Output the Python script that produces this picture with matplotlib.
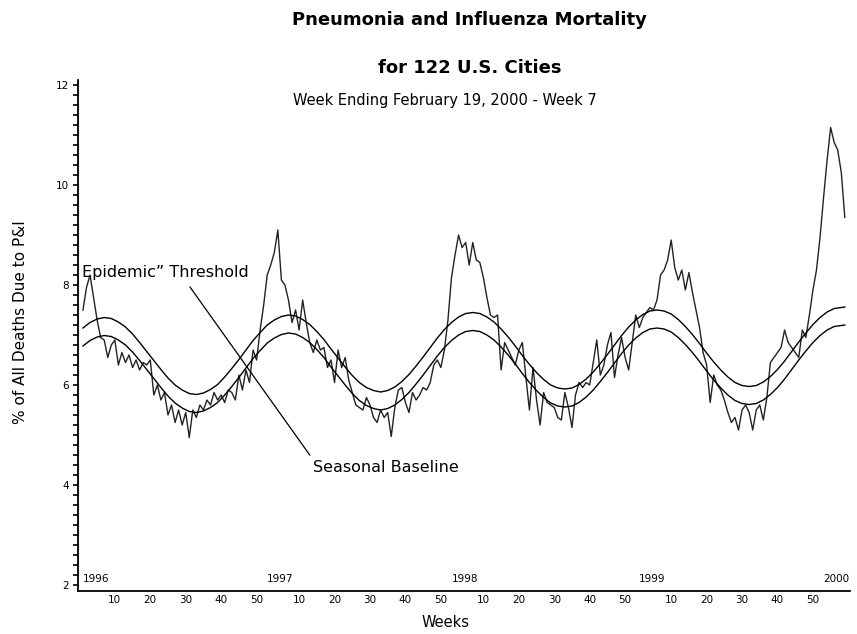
import numpy as np
import matplotlib
matplotlib.use("Agg")
import matplotlib.pyplot as plt
from matplotlib.ticker import MultipleLocator

# ---------------- data ----------------
years = ["1996", "1997", "1998", "1999", "2000"]
weeks_in_year = [52, 52, 53, 52, 7]

pi_1996 = [7.5, 7.95, 8.2, 7.75, 7.3, 6.95, 6.9, 6.55, 6.8, 6.9,
           6.4, 6.65, 6.45, 6.6, 6.35, 6.5, 6.3, 6.45, 6.4, 6.5,
           5.8, 6.0, 5.7, 5.85, 5.4, 5.6, 5.25, 5.5, 5.2, 5.45,
           4.95, 5.5, 5.35, 5.6, 5.5, 5.7, 5.6, 5.85, 5.7, 5.8,
           5.65, 5.9, 5.85, 5.7, 6.2, 5.9, 6.3, 6.05, 6.7, 6.5,
           7.1, 7.6]
pi_1997 = [8.2, 8.4, 8.65, 9.1, 8.1, 8.0, 7.7, 7.25, 7.5, 7.1,
           7.7, 7.25, 6.85, 6.65, 6.9, 6.7, 6.75, 6.35, 6.5, 6.05,
           6.7, 6.35, 6.55, 6.1, 5.85, 5.6, 5.55, 5.5, 5.75, 5.6,
           5.35, 5.25, 5.5, 5.35, 5.45, 4.97, 5.55, 5.9, 5.95, 5.65,
           5.45, 5.85, 5.7, 5.8, 5.95, 5.9, 6.05, 6.4, 6.5, 6.35,
           6.7, 7.3]
pi_1998 = [8.15, 8.6, 9.0, 8.75, 8.85, 8.4, 8.85, 8.5, 8.45, 8.15,
           7.75, 7.4, 7.35, 7.4, 6.3, 6.85, 6.7, 6.55, 6.4, 6.7,
           6.85, 6.15, 5.5, 6.35, 5.7, 5.2, 5.85, 5.65, 5.6, 5.55,
           5.35, 5.3, 5.85, 5.55, 5.15, 5.8, 6.05, 5.95, 6.05, 6.0,
           6.45, 6.9, 6.2, 6.4, 6.8, 7.05, 6.15, 6.6, 6.95, 6.55,
           6.3, 6.85, 7.4]
pi_1999 = [7.15, 7.35, 7.45, 7.55, 7.5, 7.7, 8.2, 8.3, 8.5, 8.9,
           8.35, 8.1, 8.3, 7.9, 8.25, 7.85, 7.5, 7.15, 6.65, 6.4,
           5.65, 6.2, 6.0, 5.9, 5.7, 5.45, 5.25, 5.35, 5.1, 5.5,
           5.6, 5.45, 5.1, 5.5, 5.6, 5.3, 5.75, 6.45, 6.55, 6.65,
           6.75, 7.1, 6.85, 6.75, 6.65, 6.55, 7.1, 6.95, 7.4, 7.9,
           8.3, 8.95]
pi_2000 = [9.75, 10.5, 11.15, 10.85, 10.7, 10.25, 9.35]

# smoothed curves, sampled every second week from week 1 of 1996
baseline = [6.78, 6.89, 6.96, 6.99, 6.97, 6.90, 6.80, 6.66, 6.49, 6.31,
            6.13, 5.95, 5.78, 5.64, 5.54, 5.47, 5.45, 5.48, 5.55, 5.65,
            5.80, 5.97, 6.15, 6.34, 6.53, 6.69, 6.84, 6.94, 7.01, 7.04,
            7.02, 6.95, 6.85, 6.71, 6.55, 6.36, 6.18, 6.00, 5.83, 5.69,
            5.59, 5.53, 5.50, 5.53, 5.60, 5.71, 5.85, 6.02, 6.20, 6.39,
            6.58, 6.75, 6.89, 7.00, 7.07, 7.09, 7.07, 7.00, 6.90, 6.76,
            6.60, 6.42, 6.23, 6.05, 5.89, 5.75, 5.64, 5.58, 5.56, 5.58,
            5.65, 5.76, 5.90, 6.07, 6.25, 6.44, 6.63, 6.80, 6.94, 7.05,
            7.12, 7.14, 7.12, 7.06, 6.95, 6.81, 6.65, 6.47, 6.28, 6.10,
            5.94, 5.80, 5.69, 5.63, 5.61, 5.63, 5.70, 5.81, 5.95, 6.12,
            6.31, 6.50, 6.68, 6.85, 6.99, 7.10, 7.17, 7.20]
threshold = [7.14, 7.25, 7.32, 7.35, 7.33, 7.26, 7.16, 7.02, 6.85, 6.67,
             6.49, 6.31, 6.14, 6.00, 5.90, 5.83, 5.81, 5.84, 5.91, 6.01,
             6.16, 6.33, 6.51, 6.70, 6.89, 7.05, 7.20, 7.30, 7.37, 7.40,
             7.38, 7.31, 7.21, 7.07, 6.91, 6.72, 6.54, 6.36, 6.19, 6.05,
             5.95, 5.89, 5.86, 5.89, 5.96, 6.07, 6.21, 6.38, 6.56, 6.75,
             6.94, 7.11, 7.25, 7.36, 7.43, 7.45, 7.43, 7.36, 7.26, 7.12,
             6.96, 6.78, 6.59, 6.41, 6.25, 6.11, 6.00, 5.94, 5.92, 5.94,
             6.01, 6.12, 6.26, 6.43, 6.61, 6.80, 6.99, 7.16, 7.30, 7.41,
             7.48, 7.50, 7.48, 7.42, 7.31, 7.17, 7.01, 6.83, 6.64, 6.46,
             6.30, 6.16, 6.05, 5.99, 5.97, 5.99, 6.06, 6.17, 6.31, 6.48,
             6.67, 6.86, 7.04, 7.21, 7.35, 7.46, 7.53, 7.56]

week_ticks = [10, 20, 30, 40, 50]
y_ticks = [2, 4, 6, 8, 10, 12]

# ---------------- figure ----------------
plt.rcParams['font.family'] = ['DejaVu Sans']
fig = plt.figure(figsize=(8.57, 6.34), dpi=100)
ax = fig.add_axes([0.091, 0.0678, 0.901, 0.806])

series = pi_1996 + pi_1997 + pi_1998 + pi_1999 + pi_2000
x = np.arange(len(series))
ax.plot(x, series, color='#222222', lw=1.0)

xs = np.arange(len(baseline)) * 2
xs[-1] = len(series) - 1
ax.plot(xs, baseline, color='black', lw=1.0)
ax.plot(xs, threshold, color='black', lw=1.0)

ax.set_xlim(-1.4, 216.5)
ax.set_ylim(1.88, 12.1)

for s in ['top', 'right']:
    ax.spines[s].set_visible(False)
ax.spines['left'].set_linewidth(1.3)
ax.spines['bottom'].set_linewidth(1.3)

ax.set_yticks(y_ticks)
ax.set_yticklabels([str(v) for v in y_ticks], fontsize=7.5)
ax.yaxis.set_minor_locator(MultipleLocator(0.2))
ax.tick_params(axis='y', which='both', direction='out', length=3.5, width=1.2, pad=3)

starts = np.concatenate([[0], np.cumsum(weeks_in_year)[:-1]])
tick_pos, tick_lab = [], []
for st, n in zip(starts, weeks_in_year):
    for wk in week_ticks:
        if wk <= n:
            tick_pos.append(st + wk - 1)
            tick_lab.append(str(wk))
ax.set_xticks(tick_pos)
ax.set_xticklabels(tick_lab, fontsize=7.5)
ax.tick_params(axis='x', length=0, pad=3)

for st, yr in zip(starts, years):
    ax.text(st, 2.02, yr, fontsize=7.5, ha='left', va='bottom')

ax.text(-0.4, 8.26, 'Epidemic\u201d Threshold', fontsize=11.5, ha='left', va='center')
ax.plot([30.2, 64.0], [7.96, 4.6], color='black', lw=0.9)
ax.text(65.0, 4.36, 'Seasonal Baseline', fontsize=11.5, ha='left', va='center')

ax.set_xlabel('Weeks', fontsize=10.5, va='center')
ax.xaxis.set_label_coords((445 - 78) / 772, -0.061)
ax.set_ylabel('% of All Deaths Due to P&I', fontsize=11, va='center')
ax.yaxis.set_label_coords((21 - 78) / 772, (585 - 322) / 511 + 0.012)

fig.text(0.548, 0.968, 'Pneumonia and Influenza Mortality', fontsize=13,
         fontweight='bold', ha='center', va='center')
fig.text(0.548, 0.893, 'for 122 U.S. Cities', fontsize=13,
         fontweight='bold', ha='center', va='center')
fig.text(0.519, 0.842, 'Week Ending February 19, 2000 - Week 7', fontsize=10.5,
         ha='center', va='center')

fig.savefig('out.png', dpi=100)
